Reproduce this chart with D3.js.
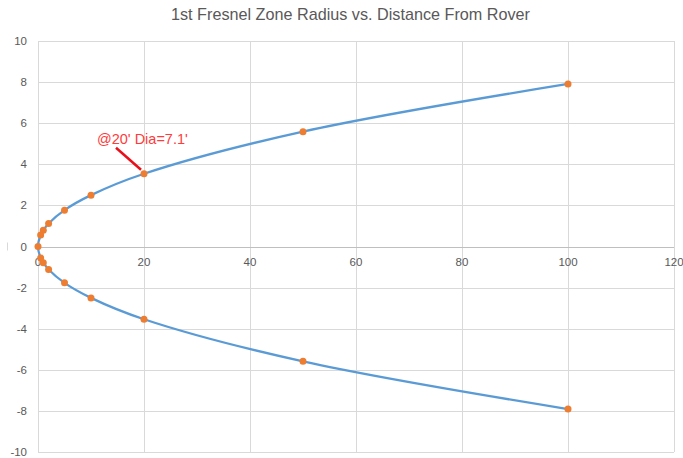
<!DOCTYPE html>
<html>
<head>
<meta charset="utf-8">
<script src="https://cdn.jsdelivr.net/npm/d3@7"></script>
<style>
  body { margin: 0; background: #fff; }
  svg { display: block; font-family: "Liberation Sans", Arial, sans-serif; }
</style>
</head>
<body>
<div id="chart"></div>
<script>
// Distance from rover (ft) and 1st Fresnel zone radius (ft)
const distances = [100, 50, 20, 10, 5, 2, 1, 0.5, 0, 0.5, 1, 2, 5, 10, 20, 50, 100];
const radii = [7.91, 5.59, 3.54, 2.5, 1.77, 1.12, 0.79, 0.56, 0, -0.56, -0.79, -1.12, -1.77, -2.5, -3.54, -5.59, -7.91];
const xTicks = [0, 20, 40, 60, 80, 100, 120];
const yTicks = [-10, -8, -6, -4, -2, 0, 2, 4, 6, 8, 10];
const titleText = "1st Fresnel Zone Radius vs. Distance From Rover";
const noteText = "@20' Dia=7.1'";
const notePoint = { x: 20, y: 3.54 };

const width = 683, height = 458;
const margin = { top: 41, right: 9, bottom: 6, left: 38 };

const svg = d3.select('#chart').append('svg')
    .attr('width', width)
    .attr('height', height);

const x = d3.scaleLinear().domain([0, 120]).range([margin.left, width - margin.right]);
const y = d3.scaleLinear().domain([-10, 10]).range([height - margin.bottom, margin.top]);

// Gridlines
const grid = svg.append('g').attr('stroke', '#d9d9d9').attr('stroke-width', 1);
grid.selectAll('.hgrid').data(yTicks).enter().append('line')
    .attr('x1', x(0)).attr('x2', x(120))
    .attr('y1', d => Math.round(y(d)) + 0.5).attr('y2', d => Math.round(y(d)) + 0.5);
grid.selectAll('.vgrid').data(xTicks).enter().append('line')
    .attr('y1', y(10)).attr('y2', y(-10))
    .attr('x1', d => Math.round(x(d)) + 0.5).attr('x2', d => Math.round(x(d)) + 0.5);

// X axis line at y = 0
svg.append('line')
    .attr('x1', x(0)).attr('x2', x(120))
    .attr('y1', Math.round(y(0)) + 0.5).attr('y2', Math.round(y(0)) + 0.5)
    .attr('stroke', '#bfbfbf');

// small faint mark left of the zero label
svg.append('line')
    .attr('x1', 7.5).attr('x2', 7.5)
    .attr('y1', y(0) - 4).attr('y2', y(0) + 4)
    .attr('stroke', '#d9d9d9');

// Y tick labels
svg.append('g').selectAll('text').data(yTicks).enter().append('text')
    .attr('x', 27)
    .attr('y', d => y(d) + 4)
    .attr('text-anchor', 'end')
    .attr('font-size', 11.5)
    .attr('fill', '#595959')
    .text(d => d);

// X tick labels
svg.append('g').selectAll('text').data(xTicks).enter().append('text')
    .attr('x', d => x(d))
    .attr('y', y(0) + 19)
    .attr('text-anchor', 'middle')
    .attr('font-size', 11.5)
    .attr('fill', '#595959')
    .text(d => d);

// Title
svg.append('text')
    .attr('x', width / 2 + 9)
    .attr('y', 20)
    .attr('text-anchor', 'middle')
    .attr('font-size', 16.2)
    .attr('fill', '#595959')
    .text(titleText);

// Series line
const data = distances.map((d, i) => ({ d, r: radii[i] }));
const line = d3.line()
    .x(p => x(p.d))
    .y(p => y(p.r))
    .curve(d3.curveCatmullRom.alpha(0.5));

svg.append('path')
    .datum(data)
    .attr('d', line)
    .attr('fill', 'none')
    .attr('stroke', '#5b9bd5')
    .attr('stroke-width', 2.25);

// Markers
svg.append('g').selectAll('circle').data(data).enter().append('circle')
    .attr('cx', p => x(p.d))
    .attr('cy', p => y(p.r))
    .attr('r', 3.5)
    .attr('fill', '#ed7d31');

// Annotation
svg.append('line')
    .attr('x1', x(notePoint.x) - 28).attr('y1', y(notePoint.y) - 26)
    .attr('x2', x(notePoint.x) - 3).attr('y2', y(notePoint.y) - 4)
    .attr('stroke', '#e8101a')
    .attr('stroke-width', 2.5);

svg.append('text')
    .attr('x', x(notePoint.x) - 47)
    .attr('y', y(notePoint.y) - 30)
    .attr('font-size', 14.5)
    .attr('fill', '#ff3b3b')
    .text(noteText);
</script>
</body>
</html>
